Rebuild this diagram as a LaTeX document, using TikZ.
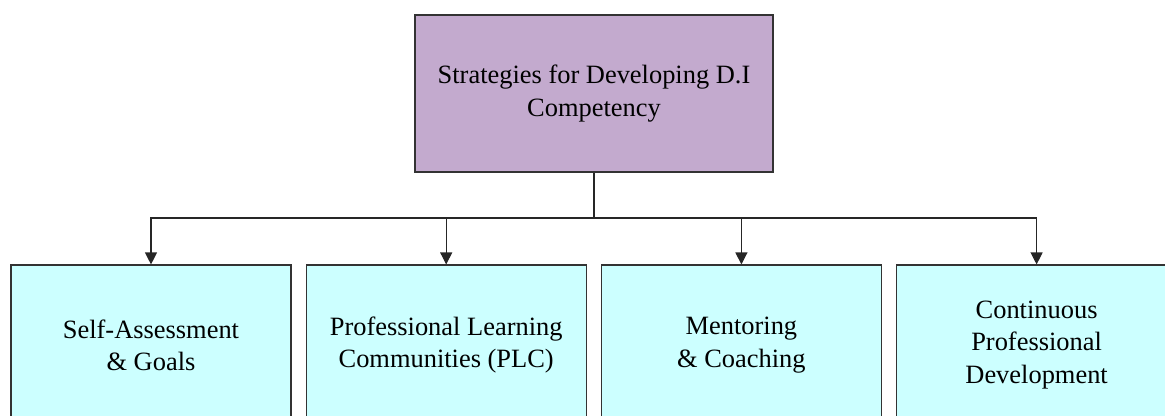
\documentclass[tikz,border=0pt]{standalone}
\usepackage{fontspec}
\setmainfont{Liberation Serif}
\usepackage{xcolor}
\usepackage{tikz}
\usetikzlibrary{arrows.meta}
\usetikzlibrary{positioning}
\definecolor{headfill}{RGB}{195,170,206}
\definecolor{leaffill}{RGB}{204,255,255}
\definecolor{edgegray}{RGB}{51,51,51}
\tikzstyle{head} = [rectangle, draw=edgegray, fill=headfill, line width=0.8pt,
    minimum width=8.95cm, minimum height=3.925cm, align=center,
    font=\fontsize{18.8}{23}\selectfont]
\tikzstyle{leaf} = [rectangle, draw=edgegray, fill=leaffill, line width=0.8pt,
    minimum width=7cm, minimum height=4cm, align=center,
    font=\fontsize{18.8}{23}\selectfont]
\tikzstyle{line} = [draw=black!85, line width=0.8pt, -{Triangle[length=8.5pt,width=8.5pt]}]
\tikzstyle{edge} = [draw=black!85, line width=0.8pt, -]
\begin{document}
\begin{tikzpicture}[node distance = 7.38cm]
  \useasboundingbox (0,0) rectangle (29.125,-10.4);
  \clip (0,0) rectangle (29.125,-10.4);
  % Place nodes
  \node [head] at (14.85,-2.3375) (strat) {Strategies for Developing D.I\\Competency};

  \node [leaf] at (3.775,-8.625) (self) {Self-Assessment\\\& Goals};
  \node [leaf, right of=self] (plc) {Professional Learning\\Communities (PLC)};
  \node [leaf, right of=plc] (mentor) {Mentoring\\\& Coaching};
  \node [leaf, right of=mentor] (cpd) {Continuous\\Professional\\Development};

  \coordinate (bus) at (14.85,-5.45);

  \path [edge] (strat.south) -- (bus);
  \path [line] (bus) -| (self.north);
  \path [line] (bus) -| (plc.north);
  \path [line] (bus) -| (mentor.north);
  \path [line] (bus) -| (cpd.north);

\end{tikzpicture}
\end{document}
